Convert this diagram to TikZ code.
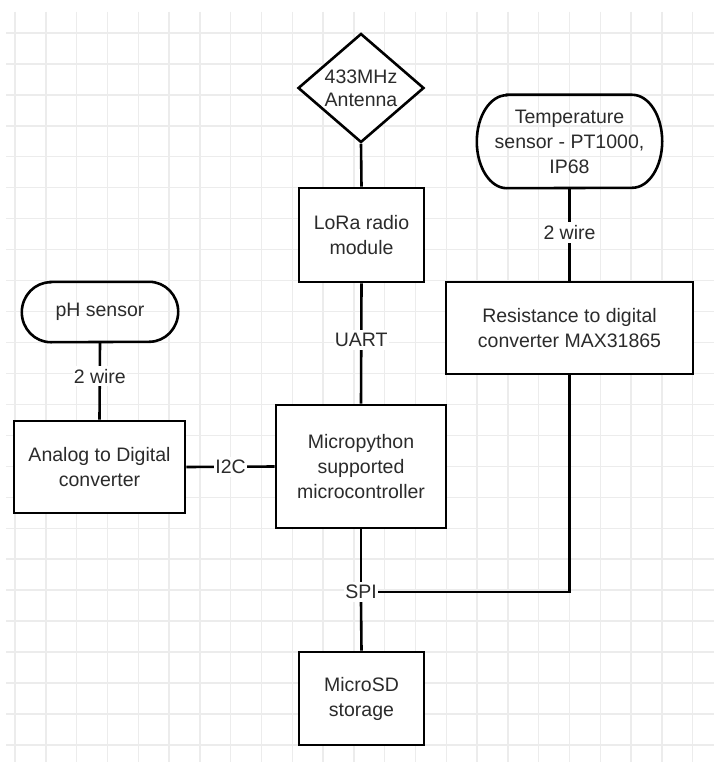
\documentclass[tikz,border=0pt]{standalone}
\usepackage{fontspec}
\setmainfont{Liberation Sans}
\usetikzlibrary{shapes.geometric}
\definecolor{gridgray}{HTML}{ECECEC}
\definecolor{inkgray}{HTML}{2B2B2B}
\tikzset{
  wire/.style={line width=2.6pt, draw=black},
  gridline/.style={line width=1.4pt, draw=gridgray},
  block/.style={draw=black, line width=2.6pt, fill=white, rectangle,
    align=center, text=inkgray, inner sep=0pt,
    font=\fontsize{19.5}{25}\selectfont},
  stadiumtext/.style={rectangle, align=center, text=inkgray, inner sep=0pt,
    font=\fontsize{19.5}{25}\selectfont},
  antenna/.style={draw=black, line width=2.6pt, fill=white, diamond,
    shape aspect=1.156, align=center, text=inkgray, inner sep=0pt,
    font=\fontsize{19.5}{23}\selectfont},
  lbl/.style={fill=white, text=inkgray, inner xsep=1pt, inner ysep=3pt,
    font=\fontsize{19.5}{23}\selectfont},
}
\begin{document}
\begin{tikzpicture}[x=1pt, y=-1pt]
  \useasboundingbox (0,0) rectangle (714,762);
  \fill[white] (0,0) rectangle (714,762);

  % background grid
  \foreach \i in {0,...,22}
    \draw[gridline] ({15+30.8*\i},12) -- ({15+30.8*\i},762);
  \foreach \j in {0,...,23}
    \draw[gridline] (6,{33+30.95*\j}) -- (714,{33+30.95*\j});

  % blocks
  \node[antenna, minimum width=126pt, minimum height=109pt] (ant) at (361,88) {433MHz\\Antenna};
  \node[block, minimum width=125pt, minimum height=94pt] (lora) at (361.5,235) {LoRa radio\\module};
  \node[block, minimum width=170pt, minimum height=123pt] (mcu) at (361,466.5) {Micropython\\supported\\microcontroller};
  \node[block, minimum width=125pt, minimum height=93pt] (sd) at (361.5,698.5) {MicroSD\\storage};
  \node[block, minimum width=171pt, minimum height=92pt] (adc) at (99.5,467) {Analog to Digital\\converter};
  \node[block, minimum width=247pt, minimum height=92pt] (res) at (569.5,328) {Resistance to digital\\converter MAX31865};

  % sensors (rounded terminator outlines)
  \node[stadiumtext, minimum width=185pt, minimum height=93pt] (temp) at (569.5,141.5) {Temperature\\sensor - PT1000,\\IP68};
  \draw[wire] ([xshift=30pt]temp.north west) -- ([xshift=-30pt]temp.north east)
    arc[start angle=90, end angle=-90, x radius=30pt, y radius=46.5pt]
    -- ([xshift=30pt]temp.south west)
    arc[start angle=270, end angle=90, x radius=30pt, y radius=46.5pt] -- cycle;
  \node[stadiumtext, minimum width=156pt, minimum height=60pt] (ph) at (100,312) {pH sensor};
  \draw[wire] ([xshift=29pt]ph.north west) -- ([xshift=-29pt]ph.north east)
    arc[start angle=90, end angle=-90, x radius=29pt, y radius=30pt]
    -- ([xshift=29pt]ph.south west)
    arc[start angle=270, end angle=90, x radius=29pt, y radius=30pt] -- cycle;

  % connections
  \draw[wire] (ant.south) -- (lora.north);
  \draw[wire] (lora.south) -- node[lbl, pos=0.47] {UART} (mcu.north);
  \draw[wire] (temp.south) -- node[lbl, pos=0.48] {2 wire} (res.north);
  \draw[wire] (ph.south) -- node[lbl, pos=0.44] {2 wire} (adc.north);
  \draw[wire] (adc.east) -- node[lbl] {I2C} (mcu.west);
  \node[lbl] (spi) at (361,592) {SPI};
  \draw[wire] (mcu.south) -- (spi.north);
  \draw[wire] (spi.south) -- (sd.north);
  \draw[wire] (res.south) |- (spi.east);
\end{tikzpicture}
\end{document}
